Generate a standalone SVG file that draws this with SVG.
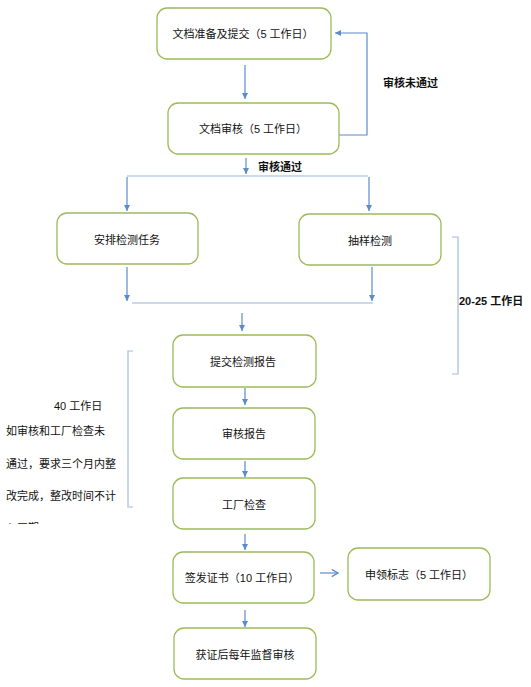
<svg xmlns="http://www.w3.org/2000/svg" width="531" height="687" viewBox="0 0 531 687">
<defs>
<style>
.box{fill:#fff;stroke:#9bbb59;stroke-width:1.3}
.t{font-family:"Liberation Sans","Noto Sans CJK SC",sans-serif;font-size:11px;fill:#111;text-anchor:middle;dominant-baseline:central}
.n{font-family:"Liberation Sans","Noto Sans CJK SC",sans-serif;font-size:11px;fill:#111;dominant-baseline:central}
.b{font-weight:bold}
.ln{fill:none;stroke:#5b8cc9;stroke-width:1.2}
.hl{fill:none;stroke:#95b3d7;stroke-width:1.2}
.br{fill:none;stroke:#a4bbdd;stroke-width:1.2}
</style>
<marker id="ah" viewBox="0 0 10 10" refX="10" refY="5" markerWidth="6" markerHeight="6" markerUnits="userSpaceOnUse" orient="auto">
<path d="M0,0 L10,5 L0,10 z" fill="#5b8cc9"/>
</marker>
<marker id="oa" viewBox="0 0 10 10" refX="9" refY="5" markerWidth="9" markerHeight="9" markerUnits="userSpaceOnUse" orient="auto">
<path d="M2,1 L9,5 L2,9" fill="none" stroke="#5b8cc9" stroke-width="1.4"/>
</marker>
<clipPath id="clip"><rect x="0" y="515" width="140" height="9"/></clipPath>
</defs>

<g id="connectors">
<path class="ln" d="M245,65 V99" marker-end="url(#ah)"/>
<path class="ln" d="M339,135 H367 V33 H335" marker-end="url(#ah)"/>
<path class="ln" d="M246,158 V174" marker-end="url(#ah)"/>
<path class="hl" d="M127,176 H368"/>
<path class="ln" d="M127,177 V211" marker-end="url(#ah)"/>
<path class="ln" d="M369,177 V211" marker-end="url(#ah)"/>
<path class="ln" d="M127,267 V301" marker-end="url(#ah)"/>
<path class="ln" d="M372,267 V301" marker-end="url(#ah)"/>
<path class="hl" d="M132,303 H373"/>
<path class="ln" d="M242,313 V331" marker-end="url(#ah)"/>
<path class="ln" d="M245,388 V405" marker-end="url(#ah)"/>
<path class="ln" d="M245,461 V477" marker-end="url(#ah)"/>
<path class="ln" d="M245,534 V550" marker-end="url(#ah)"/>
<path class="ln" d="M320,573 H338" marker-end="url(#oa)"/>
<path class="ln" d="M245,610 V627" marker-end="url(#ah)"/>
<path class="br" d="M452,237 H458 V374 H452"/>
<path class="br" d="M133,351 H128 V507 H133"/>
</g>

<g id="labels">
<text class="n b" x="383" y="83">审核未通过</text>
<text class="n b" x="258" y="167">审核通过</text>
<text class="n b" x="459" y="301">20-25 工作日</text>
<text class="n" x="54" y="406">40 工作日</text>
<text class="n" x="6" y="431">如审核和工厂检查未</text>
<text class="n" x="6" y="464">通过，要求三个月内整</text>
<text class="n" x="6" y="496">改完成，整改时间不计</text>
<text class="n" x="6" y="528" clip-path="url(#clip)">入工期</text>
</g>

<g id="n1"><rect class="box" x="157" y="8" width="174" height="51" rx="10"/><text class="t" x="243" y="34">文档准备及提交（5 工作日）</text></g>
<g id="n2"><rect class="box" x="168" y="103" width="171" height="51" rx="10"/><text class="t" x="253" y="129">文档审核（5 工作日）</text></g>
<g id="n3"><rect class="box" x="57" y="213" width="141" height="51" rx="10"/><text class="t" x="127" y="240">安排检测任务</text></g>
<g id="n4"><rect class="box" x="299" y="214" width="142" height="51" rx="10"/><text class="t" x="370" y="241">抽样检测</text></g>
<g id="n5"><rect class="box" x="173" y="335" width="143" height="52" rx="10"/><text class="t" x="243" y="362">提交检测报告</text></g>
<g id="n6"><rect class="box" x="173" y="408" width="142" height="51" rx="10"/><text class="t" x="244" y="434">审核报告</text></g>
<g id="n7"><rect class="box" x="173" y="478" width="142" height="51" rx="10"/><text class="t" x="244" y="505">工厂检查</text></g>
<g id="n8"><rect class="box" x="173" y="552" width="141" height="51" rx="10"/><text class="t" x="242" y="578">签发证书（10 工作日）</text></g>
<g id="n9"><rect class="box" x="348" y="548" width="142" height="52" rx="10"/><text class="t" x="419" y="575">申领标志（5 工作日）</text></g>
<g id="n10"><rect class="box" x="174" y="628" width="142" height="51" rx="10"/><text class="t" x="245" y="655">获证后每年监督审核</text></g>
</svg>
